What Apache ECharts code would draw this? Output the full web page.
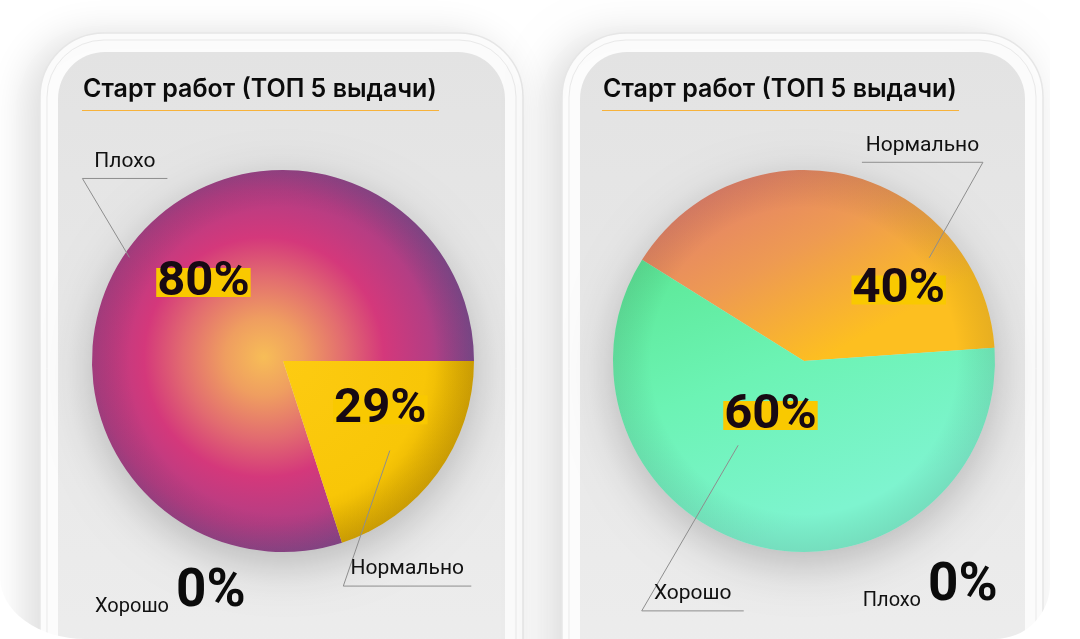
<!DOCTYPE html>
<html lang="ru">
<head>
    <meta charset="UTF-8">
    <meta name="viewport" content="width=device-width, initial-scale=1.0">
    <title>Старт работ</title>
    <script src="https://cdn.jsdelivr.net/npm/echarts@6/dist/echarts.min.js"></script>
    <style>
        html, body { margin: 0; padding: 0; background: #fff; }
        #main {
            width: 1080px; height: 639px;
            clip-path: inset(0 30px 0 0 round 0 0 55px 85px / 0 0 55px 62px);
        }
    </style>
</head>
<body>
<div id="main"></div>
<script>
    // данные
    var titleText = 'Старт работ (ТОП 5 выдачи)';
    var leftNames = ['Плохо', 'Нормально', 'Хорошо'];
    var leftValues = [80, 20, 0];
    var leftLabels = ['80%', '29%', '0%'];
    var rightNames = ['Нормально', 'Хорошо', 'Плохо'];
    var rightValues = [40, 60, 0];
    var rightLabels = ['40%', '60%', '0%'];

    var R = 191;
    var FONT = 'Roboto, "Noto Sans", sans-serif';
    var TITLE_FONT = 'Inter, Roboto, sans-serif';

    function stops(list) {
        return list.map(function (s) { return { offset: s[0], color: s[1] }; });
    }

    // оформление каждого экрана
    var panels = [
        {
            names: leftNames, values: leftValues, labels: leftLabels,
            frameX: 40, frameW: 483, screenX: 58, screenW: 447, titleX: 83,
            center: [283, 361], startAngle: -72,
            fills: {
                'Плохо': { type: 'radial', x: 0.45, y: 0.49, r: 0.56, colorStops: stops([
                    [0, '#f7bd57'], [0.18, '#ef9e60'], [0.38, '#e26b70'], [0.56, '#d4387b'],
                    [0.78, '#b33e84'], [1, '#7a4b8f']]) },
                'Нормально': { type: 'radial', x: 0, y: 0, r: 1.05, colorStops: stops([
                    [0, '#fdcb12'], [0.75, '#f8c607'], [1, '#dcaa00']]) }
            },
            inner: { 'Плохо': [-8.6, 0.585], 'Нормально': [9.4, 0.57] },
            lines: {
                'Плохо': { inOff: 2, kIn: 0.97, outOff: -6.3, kOut: 1.42, len: 85, dir: 1 },
                'Нормально': { inOff: -4, kIn: 0.73, outOff: -39, kOut: 1.22, len: 128, dir: 1 }
            },
            zero: { x: 176, y: 593 }
        },
        {
            names: rightNames, values: rightValues, labels: rightLabels,
            frameX: 562, frameW: 481, screenX: 580, screenW: 445, titleX: 603,
            center: [804, 361], startAngle: 148,
            fills: {
                'Нормально': { type: 'linear', x: 0.2, y: 0, x2: 0.5, y2: 1, colorStops: stops([
                    [0, '#e27d6d'], [0.5, '#ee9a52'], [1, '#fdbf20']]) },
                'Хорошо': { type: 'linear', x: 0, y: 0, x2: 0.3, y2: 1, colorStops: stops([
                    [0, '#5be794'], [0.5, '#6cf3b4'], [1, '#7ef4cf']]) }
            },
            inner: { 'Нормально': [-39.1, 0.62], 'Хорошо': [-17.6, 0.335] },
            lines: {
                'Нормально': { inOff: -36.5, kIn: 0.85, outOff: -28, kOut: 1.40, len: 121, dir: -1 },
                'Хорошо': { inOff: -24, kIn: 0.56, outOff: -19, kOut: 1.56, len: 102, dir: 1 }
            },
            zero: { x: 928, y: 587 }
        }
    ];

    function polar(c, deg, k) {
        var a = deg * Math.PI / 180;
        return [c[0] + Math.cos(a) * k * R, c[1] - Math.sin(a) * k * R];
    }

    var graphics = [];
    var series = [];

    panels.forEach(function (p) {
        // корпус телефона
        graphics.push({
            type: 'rect', z: 0, silent: true,
            shape: { x: p.frameX, y: 33, width: p.frameW, height: 760, r: 64 },
            style: { fill: '#fcfcfc', stroke: '#e6e6e6', lineWidth: 1.5,
                shadowBlur: 40, shadowOffsetX: -12, shadowOffsetY: 4, shadowColor: 'rgba(0,0,0,0.14)' }
        });
        graphics.push({
            type: 'rect', z: 0, silent: true,
            shape: { x: p.frameX + 7, y: 40, width: p.frameW - 14, height: 760, r: 57 },
            style: { fill: 'none', stroke: '#e9e9e9', lineWidth: 1 }
        });
        graphics.push({
            type: 'rect', z: 0, silent: true,
            shape: { x: p.screenX, y: 52, width: p.screenW, height: 760, r: 47 },
            style: { fill: { type: 'linear', x: 0, y: 0, x2: 0, y2: 1, colorStops: stops([
                [0, '#e3e3e3'], [0.75, '#ececec'], [1, '#ededed']]) } }
        });
        // заголовок
        graphics.push({
            type: 'text', z: 1, silent: true, x: p.titleX, y: 89,
            style: { text: titleText, fontFamily: TITLE_FONT, fontSize: 25, fontWeight: 600,
                fill: '#0b0b0b', align: 'left', verticalAlign: 'middle' }
        });
        graphics.push({
            type: 'line', z: 1, silent: true,
            shape: { x1: p.titleX - 1, y1: 110.5, x2: p.titleX + 356, y2: 110.5 },
            style: { stroke: '#f7b23b', lineWidth: 1 }
        });
        // нулевые значения — подписью внизу
        p.values.forEach(function (v, i) {
            if (v !== 0) return;
            graphics.push({
                type: 'text', z: 1, silent: true, x: p.zero.x - 7, y: p.zero.y + 13.5,
                style: { text: p.names[i], fontFamily: FONT, fontSize: 20, fill: '#111',
                    align: 'right', verticalAlign: 'middle' }
            });
            graphics.push({
                type: 'text', z: 1, silent: true, x: p.zero.x, y: p.zero.y,
                style: { text: p.labels[i], fontFamily: FONT, fontSize: 53, fontWeight: 'bold',
                    fill: '#0b0b0b', align: 'left', verticalAlign: 'middle' }
            });
        });

        var idx = [];
        var total = 0;
        p.values.forEach(function (v, i) { if (v > 0) { idx.push(i); total += v; } });
        var mids = {};
        var acc = 0;
        idx.forEach(function (i) {
            mids[i] = p.startAngle - (acc + p.values[i] / 2) / total * 360;
            acc += p.values[i];
        });

        var base = { type: 'pie', center: p.center, radius: R, startAngle: p.startAngle,
            clockwise: true, silent: true, animation: false };

        // тень под кругом
        series.push(Object.assign({}, base, {
            z: 1,
            data: [{ value: total, itemStyle: { color: '#dcdcdc', shadowBlur: 45,
                shadowColor: 'rgba(0,0,0,0.22)', shadowOffsetY: 12 } }],
            label: { show: false }, labelLine: { show: false }
        }));
        // сектора с процентами
        series.push(Object.assign({}, base, {
            z: 2,
            data: idx.map(function (i) {
                return { name: p.names[i], value: p.values[i],
                    itemStyle: { color: p.fills[p.names[i]], borderWidth: 0 } };
            }),
            label: {
                show: true, position: 'inside',
                formatter: function (q) { return p.labels[idx[q.dataIndex]]; },
                fontFamily: FONT, fontSize: 49, fontWeight: 'bold', color: '#170913',
                backgroundColor: '#f9c900', lineHeight: 29, padding: [0, 1]
            },
            labelLine: { show: false },
            labelLayout: function (q) {
                var i = idx[q.dataIndex];
                var s = p.inner[p.names[i]];
                var pt = polar(p.center, mids[i] + s[0], s[1]);
                return { x: pt[0], y: pt[1], align: 'center', verticalAlign: 'middle' };
            }
        }));
        // затемнение края
        series.push(Object.assign({}, base, {
            z: 3,
            data: [{ value: total, itemStyle: { borderWidth: 0, color: { type: 'radial', x: 0.5, y: 0.5, r: 0.5,
                colorStops: stops([[0, 'rgba(0,0,0,0)'], [0.8, 'rgba(0,0,0,0)'], [1, 'rgba(40,30,40,0.10)']]) } } }],
            label: { show: false }, labelLine: { show: false }
        }));
        // выноски с названиями
        series.push(Object.assign({}, base, {
            z: 4,
            data: idx.map(function (i) { return { name: p.names[i], value: p.values[i] }; }),
            itemStyle: { color: 'rgba(0,0,0,0)', borderWidth: 0 },
            label: { show: true, position: 'outside', formatter: '{b}',
                fontFamily: FONT, fontSize: 21, color: '#111' },
            labelLine: { show: true, length: 20, length2: 20, smooth: false,
                lineStyle: { color: '#8e8e8e', width: 1 } },
            labelLayout: function (q) {
                var i = idx[q.dataIndex];
                var s = p.lines[p.names[i]];
                var a = polar(p.center, mids[i] + s.inOff, s.kIn);
                var b = polar(p.center, mids[i] + s.outOff, s.kOut);
                var c = [b[0] + s.dir * s.len, b[1]];
                return {
                    x: (b[0] + c[0]) / 2, y: b[1] - 17,
                    align: 'center', verticalAlign: 'middle',
                    labelLinePoints: [a, b, c]
                };
            }
        }));
    });

    var myChart = echarts.init(document.getElementById('main'));
    myChart.setOption({
        animation: false,
        backgroundColor: '#ffffff',
        graphic: { elements: graphics },
        series: series
    });
</script>
</body>
</html>
